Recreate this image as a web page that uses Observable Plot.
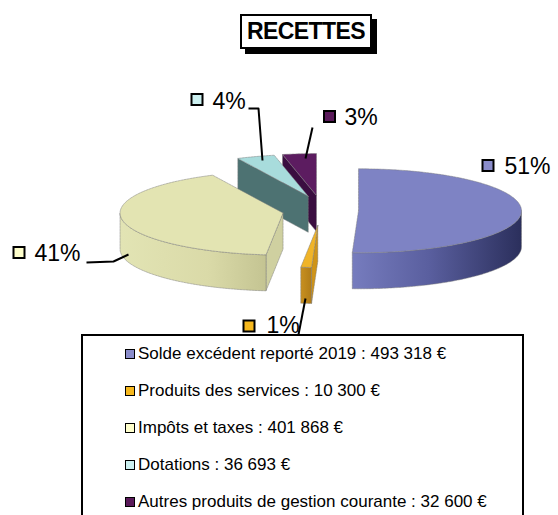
<!DOCTYPE html>
<html><head><meta charset="utf-8">
<script src="https://cdn.jsdelivr.net/npm/d3@7"></script>
<script src="https://cdn.jsdelivr.net/npm/@observablehq/plot@0.6"></script>
<style>
html,body{margin:0;padding:0;background:#fff;overflow:hidden}
#fig{position:relative;width:558px;height:515px;font-family:"Liberation Sans",Arial,sans-serif;color:#000}
#chart{position:absolute;left:0;top:0}
#title{position:absolute;left:240px;top:14px;width:128px;height:31px;border:2px solid #000;box-shadow:5px 5px 0 #000;background:#fff;font-weight:bold;font-size:23px;letter-spacing:-0.6px;line-height:31px;text-align:center}
#legend{position:absolute;left:81px;top:334px;width:439px;height:200px;border:2px solid #000;background:#fff}
.item{position:absolute;left:42px;height:20px;line-height:20px;font-size:17px;white-space:nowrap}
.sw{display:inline-block;width:8px;height:8px;border:1px solid #000;margin-right:3px;vertical-align:0px}
</style></head>
<body><div id="fig"><div id="chart"></div><div id="title">RECETTES</div><div id="legend"></div></div>
<script>
// ---- data ----
const categories = ["Solde excédent reporté 2019", "Produits des services", "Impôts et taxes", "Dotations", "Autres produits de gestion courante"];
const amounts = [493318, 10300, 401868, 36693, 32600];
const amountLabels = ["493 318 €", "10 300 €", "401 868 €", "36 693 €", "32 600 €"];

// ---- styles ----
const topColors  = ["#7e83c4", "#f0b428", "#e3e4b2", "#a8dcdc", "#5c1c60"];
const faceColors = ["#5a5fa0", "#cf9418", "#cfd0a0", "#4d7272", "#3a0e40"];
const sideStops  = [
  [["0", "#767cbe"], ["0.45", "#5a5f9f"], ["1", "#2b2f5c"]],
  [["0", "#c89020"], ["1", "#b07c18"]],
  [["0", "#e2e4b4"], ["0.6", "#dadaa8"], ["1", "#c4c492"]],
  [["0", "#6a9090"], ["1", "#4d7272"]],
  [["0", "#4a1850"], ["1", "#3a0e40"]]
];
const legendColors = ["#8a8cca", "#f6b81e", "#ffffcc", "#ccf0f0", "#5a1a5a"];
const legendRowsY = [8, 45, 82, 119, 156];

// label layout (square centre, text start, text centre y), leader lines
const labelLayout = [
  {sx: 488, sy: 165.5, tx: 504, ty: 166},
  {sx: 249, sy: 326, tx: 266, ty: 325},
  {sx: 19, sy: 252.5, tx: 34, ty: 253.5},
  {sx: 197, sy: 99.5, tx: 212, ty: 101},
  {sx: 329.5, sy: 116.5, tx: 344, ty: 117.5}
];
const leaders = [
  null,
  [[298, 334], [305, 298]],
  [[86, 262], [113, 261], [128, 254]],
  [[248, 108], [258, 108], [262, 160]],
  [[312, 127], [305, 158]]
];

const W = 558, H = 515;
const geom = {cx: 320, cy: 210, rx: 163, ry: 42, h: 36, ex: 38, ey: 15};

// ---- geometry from data ----
const total = d3.sum(amounts);
let acc = 0;
const slices = amounts.map((v, i) => {
  const a = acc / total * 2 * Math.PI; acc += v;
  const b = acc / total * 2 * Math.PI;
  const m = (a + b) / 2;
  return {i, a, b, m, ox: geom.cx + geom.ex * Math.sin(m), oy: geom.cy - geom.ey * Math.cos(m)};
});
const P = (s, t, r, z) => ({x: s.ox + r * geom.rx * Math.sin(t), y: s.oy - r * geom.ry * Math.cos(t) + z * geom.h});
const arc = (s, t1, t2, z) => {
  const n = Math.max(2, Math.ceil(Math.abs(t2 - t1) / (Math.PI / 180)));
  return d3.range(n + 1).map(k => P(s, t1 + (t2 - t1) * k / n, 1, z));
};

const faces = [];
const order = slices.slice().sort((p, q) => Math.cos(q.m) - Math.cos(p.m));
for (const s of order) {
  const edge = {stroke: "#7a7a7a", strokeOpacity: 0.7, strokeWidth: 0.7, strokeDasharray: "2,1"};
  if (Math.sin(s.a) < -1e-6) {
    const pts = [P(s, 0, 0, 0), P(s, s.a, 1, 0), P(s, s.a, 1, 1), P(s, 0, 0, 1)];
    faces.push({pts: [...pts, pts[0]], fill: faceColors[s.i], ...edge});
  }
  if (Math.sin(s.b) > 1e-6) {
    const pts = [P(s, 0, 0, 0), P(s, s.b, 1, 0), P(s, s.b, 1, 1), P(s, 0, 0, 1)];
    faces.push({pts: [...pts, pts[0]], fill: faceColors[s.i], ...edge});
  }
  const t1 = Math.max(s.a, Math.PI / 2), t2 = Math.min(s.b, 3 * Math.PI / 2);
  if (t2 > t1) {
    const pts = [...arc(s, t1, t2, 0), ...arc(s, t2, t1, 1)];
    faces.push({pts: [...pts, pts[0]], fill: `url(#side${s.i})`, ...edge});
  }
  const top = [P(s, 0, 0, 0), ...arc(s, s.a, s.b, 0)];
  faces.push({pts: [...top, top[0]], fill: topColors[s.i], ...edge});
}

const defsMark = () => {
  const g = d3.create("svg:g");
  const defs = g.append("defs");
  sideStops.forEach((stops, i) => {
    const lg = defs.append("linearGradient").attr("id", `side${i}`).attr("x1", 0).attr("x2", 1).attr("y1", 0).attr("y2", 0);
    stops.forEach(([o, c]) => lg.append("stop").attr("offset", o).attr("stop-color", c));
  });
  return g.node();
};

const pct = amounts.map(v => Math.round(v / total * 100) + "%");
const labels = slices.map(s => ({...labelLayout[s.i], text: pct[s.i], color: legendColors[s.i]}));
const leaderLines = leaders.flatMap((l, i) => l ? l.map(([x, y]) => ({x, y, k: i})) : []);

const plot = Plot.plot({
  width: W, height: H,
  margin: 0,
  x: {domain: [0, W], range: [0, W], axis: null},
  y: {domain: [0, H], range: [0, H], axis: null},
  style: {background: "transparent", overflow: "visible"},
  marks: [
    defsMark,
    ...faces.map(f => Plot.line(f.pts, {x: "x", y: "y", fill: f.fill, stroke: f.stroke, strokeOpacity: f.strokeOpacity, strokeWidth: f.strokeWidth, strokeDasharray: f.strokeDasharray, strokeLinejoin: "round", curve: "linear"})),
    Plot.line(leaderLines, {x: "x", y: "y", z: "k", stroke: "#000", strokeWidth: 2, strokeLinecap: "butt"}),
    Plot.rect(labels, {x1: d => d.sx - 5.5, x2: d => d.sx + 5.5, y1: d => d.sy - 5.5, y2: d => d.sy + 5.5, fill: "color", stroke: "#000", strokeWidth: 2}),
    Plot.text(labels, {x: "tx", y: "ty", text: "text", textAnchor: "start", fontSize: 23, fill: "#000", fontFamily: "Liberation Sans, Arial, sans-serif", style: "letter-spacing:1px"})
  ]
});
document.getElementById("chart").appendChild(plot);

const legend = d3.select("#legend");
categories.forEach((c, i) => {
  const it = legend.append("div").attr("class", "item").style("top", legendRowsY[i] + "px");
  it.append("span").attr("class", "sw").style("background", legendColors[i]);
  it.append("span").text(`${c} : ${amountLabels[i]}`);
});
</script></body></html>
